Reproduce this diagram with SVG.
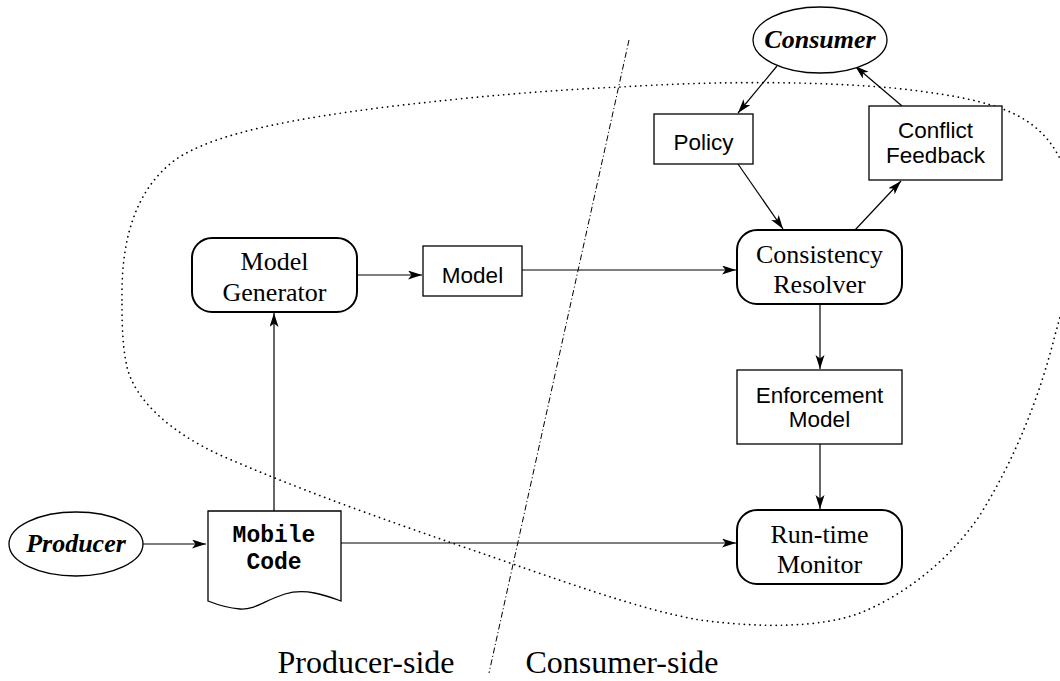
<svg xmlns="http://www.w3.org/2000/svg" width="1060" height="681" viewBox="0 0 1060 681">
<style>
.bg{fill:#fff}
.box{fill:#fff;stroke:#000;stroke-width:1.3}
.rbox{fill:#fff;stroke:#000;stroke-width:2}
.ell{fill:#fff;stroke:#000;stroke-width:1.3}
.edge{fill:none;stroke:#000;stroke-width:1.2}
.serif{font-family:"Liberation Serif","Times New Roman",serif;font-size:26px;text-anchor:middle;fill:#000}
.sans{font-family:"Liberation Sans",Arial,sans-serif;font-size:22.5px;text-anchor:middle;fill:#000}
.mono{font-family:"Liberation Mono","Courier New",monospace;font-size:23px;font-weight:bold;text-anchor:middle;fill:#000}
.actor{font-family:"Liberation Serif","Times New Roman",serif;font-size:26px;font-weight:bold;font-style:italic;text-anchor:middle;fill:#000}
.side{font-family:"Liberation Serif","Times New Roman",serif;font-size:32px;text-anchor:middle;fill:#000}
.boundary{fill:none;stroke:#000;stroke-width:1.7;stroke-dasharray:0.1 5.2;stroke-linecap:round}
.divider{fill:none;stroke:#000;stroke-width:1;stroke-dasharray:6 2.5 1.2 2.5}
</style>
<defs>
<marker id="arr" markerUnits="userSpaceOnUse" markerWidth="16" markerHeight="10" refX="14" refY="4.5" orient="auto">
<path d="M0,0 L14,4.5 L0,9 L3.5,4.5 Z" fill="#000"/>
</marker>
</defs>
<rect class="bg" x="0" y="0" width="1060" height="681"/>

<g id="boundary">
<path class="boundary" d="M122,300 C121,240 135,190 175,160 C215,132 300,118 386,107 C470,97 550,90 621,87 C700,82 800,80 893,88 C940,93 975,99 1000,108 C1040,122 1065,150 1072,200 C1078,240 1068,290 1055,335 C1040,395 1015,460 978,518 C945,565 900,597 860,613 C820,628 760,628 700,620 C640,610 560,580 452,543 C380,518 300,490 220,455 C170,432 135,400 127,367 C122,345 122,320 122,300 Z"/>
</g>

<g id="divider">
<line class="divider" x1="629" y1="40" x2="489" y2="673"/>
</g>

<g id="connectors">
<line class="edge" x1="143" y1="544" x2="206" y2="544" marker-end="url(#arr)"/>
<line class="edge" x1="274" y1="511" x2="274" y2="313" marker-end="url(#arr)"/>
<line class="edge" x1="357" y1="275" x2="422" y2="275" marker-end="url(#arr)"/>
<line class="edge" x1="522" y1="270" x2="736" y2="270" marker-end="url(#arr)"/>
<line class="edge" x1="341" y1="543" x2="736" y2="543" marker-end="url(#arr)"/>
<line class="edge" x1="820" y1="304" x2="820" y2="369" marker-end="url(#arr)"/>
<line class="edge" x1="820" y1="444" x2="820" y2="509" marker-end="url(#arr)"/>
<line class="edge" x1="777" y1="66" x2="738" y2="113" marker-end="url(#arr)"/>
<line class="edge" x1="738" y1="164" x2="783" y2="229" marker-end="url(#arr)"/>
<line class="edge" x1="855" y1="230" x2="901" y2="181" marker-end="url(#arr)"/>
<line class="edge" x1="902" y1="106" x2="855" y2="66" marker-end="url(#arr)"/>
</g>

<g id="producer">
<ellipse class="ell" cx="76" cy="544" rx="67" ry="32"/>
<text class="actor" x="76" y="552">Producer</text>
</g>

<g id="mobile-code">
<path class="box" d="M208,511 L341,511 L341,601 C325,595 305,588 285,594 C265,600 255,610 240,609 C228,608 218,605 208,601 Z"/>
<text class="mono" x="274" y="542">Mobile</text>
<text class="mono" x="274" y="569">Code</text>
</g>

<g id="model-generator">
<rect class="rbox" x="192" y="238" width="165" height="74" rx="20" ry="20"/>
<text class="serif" x="274.5" y="270">Model</text>
<text class="serif" x="274.5" y="301">Generator</text>
</g>

<g id="model">
<rect class="box" x="423" y="246" width="99" height="50"/>
<text class="sans" x="472.5" y="283">Model</text>
</g>

<g id="consumer">
<ellipse class="ell" cx="820" cy="40" rx="67" ry="33"/>
<text class="actor" x="820" y="48">Consumer</text>
</g>

<g id="policy">
<rect class="box" x="654" y="114" width="99" height="50"/>
<text class="sans" x="703.5" y="150">Policy</text>
</g>

<g id="conflict-feedback">
<rect class="box" x="869" y="106" width="133" height="74"/>
<text class="sans" x="935.5" y="138">Conflict</text>
<text class="sans" x="935.5" y="163">Feedback</text>
</g>

<g id="consistency-resolver">
<rect class="rbox" x="737" y="230" width="165" height="74" rx="20" ry="20"/>
<text class="serif" x="819.5" y="263">Consistency</text>
<text class="serif" x="819.5" y="293">Resolver</text>
</g>

<g id="enforcement-model">
<rect class="box" x="737" y="370" width="165" height="74"/>
<text class="sans" x="819.5" y="403">Enforcement</text>
<text class="sans" x="819.5" y="427">Model</text>
</g>

<g id="runtime-monitor">
<rect class="rbox" x="737" y="510" width="165" height="74" rx="20" ry="20"/>
<text class="serif" x="819.5" y="543">Run-time</text>
<text class="serif" x="819.5" y="573">Monitor</text>
</g>

<g id="labels">
<text class="side" x="366" y="673">Producer-side</text>
<text class="side" x="622" y="673">Consumer-side</text>
</g>
</svg>
